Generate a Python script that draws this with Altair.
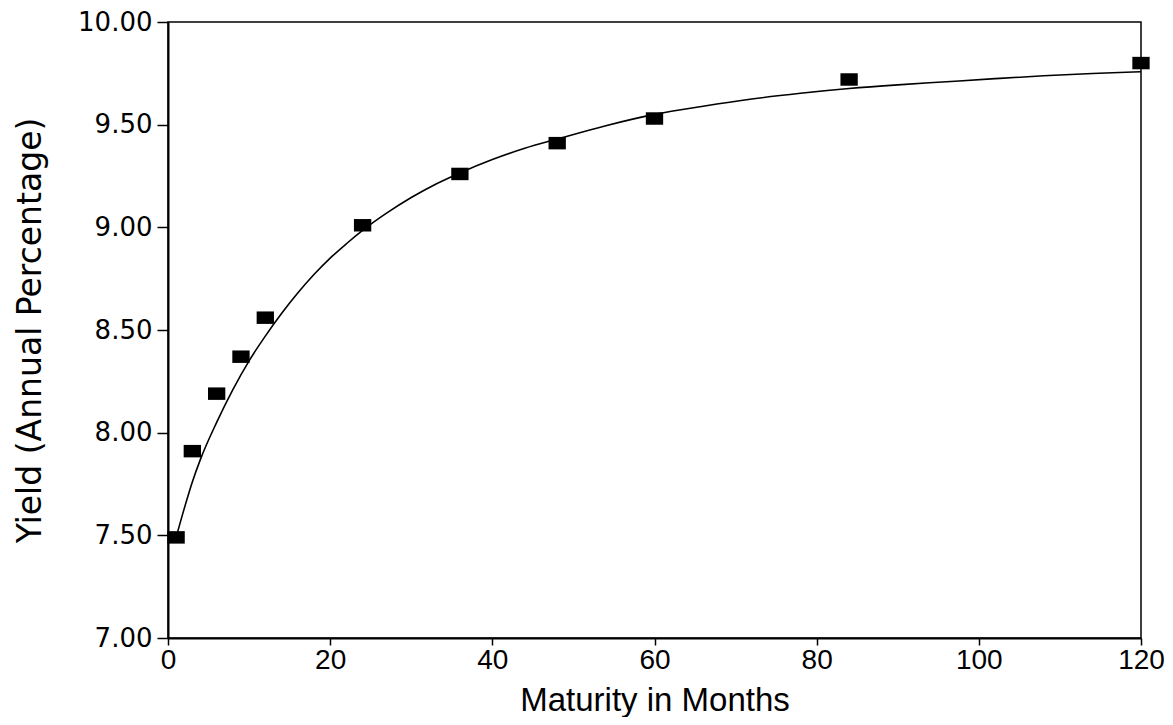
import altair as alt
import pandas as pd

# Observed yields (squares)
obs_maturity = [1, 3, 6, 9, 12, 24, 36, 48, 60, 84, 120]
obs_yield = [7.49, 7.91, 8.19, 8.37, 8.56, 9.01, 9.26, 9.41, 9.53, 9.72, 9.80]

# Fitted curve points
fit_maturity = [1, 2, 3, 4, 6, 8, 10, 12, 14, 16, 18, 20, 22, 24, 27, 30, 33, 36,
                40, 44, 48, 54, 60, 66, 72, 78, 84, 90, 96, 102, 108, 114, 120]
fit_yield = [7.49, 7.63, 7.76, 7.87, 8.05, 8.21, 8.35, 8.47, 8.58, 8.68, 8.77, 8.85,
             8.92, 8.985, 9.07, 9.145, 9.21, 9.265, 9.33, 9.385, 9.43, 9.495, 9.55,
             9.59, 9.625, 9.653, 9.676, 9.694, 9.709, 9.724, 9.738, 9.749, 9.758]

x_ticks = [0, 20, 40, 60, 80, 100, 120]
y_ticks = [7.0, 7.5, 8.0, 8.5, 9.0, 9.5, 10.0]

obs = pd.DataFrame({"m": obs_maturity, "y": obs_yield})
fit = pd.DataFrame({"m": fit_maturity, "y": fit_yield})

XFONT = "Liberation Sans"
YFONT = "DejaVu Sans"

xs = alt.Scale(domain=[0, 120], nice=False, zero=False)
ys = alt.Scale(domain=[7.0, 10.0], nice=False, zero=False)

xax = alt.Axis(values=x_ticks, title="Maturity in Months", grid=False, format="d",
               labelFont=XFONT, labelFontSize=28, labelColor="black",
               titleFont=XFONT, titleFontSize=33, titleFontWeight="normal", titleColor="black",
               titleBaseline="alphabetic", titleY=72,
               tickSize=7, tickColor="black", tickWidth=1.5, domainColor="black", domainWidth=2,
               labelPadding=1, labelFlush=False)
yax = alt.Axis(values=y_ticks, title="Yield (Annual Percentage)", grid=False, format=".2f",
               labelFont=YFONT, labelFontSize=26, labelColor="black",
               titleFont=YFONT, titleFontSize=33, titleFontWeight="normal", titleColor="black",
               tickSize=11, tickColor="black", tickWidth=1.5, domainColor="black", domainWidth=2,
               labelPadding=5, titlePadding=30, labelFlush=False)

line = alt.Chart(fit).mark_line(color="black", strokeWidth=1.6, interpolate="monotone").encode(
    x=alt.X("m:Q", scale=xs, axis=xax),
    y=alt.Y("y:Q", scale=ys, axis=yax),
)

pts = alt.Chart(obs).mark_point(
    shape="M-1,-0.72L1,-0.72L1,0.72L-1,0.72Z", size=300, filled=True,
    color="black", opacity=1
).encode(
    x=alt.X("m:Q", scale=xs),
    y=alt.Y("y:Q", scale=ys),
)

chart = (line + pts).properties(
    width=973, height=616,
    autosize=alt.AutoSizeParams(type="none"),
    padding={"left": 160, "top": 14, "right": 24, "bottom": 79},
    background="white",
).configure_view(stroke="black", strokeWidth=1.5)

chart.save("out.html", embed_options={"renderer": "svg", "actions": False})
